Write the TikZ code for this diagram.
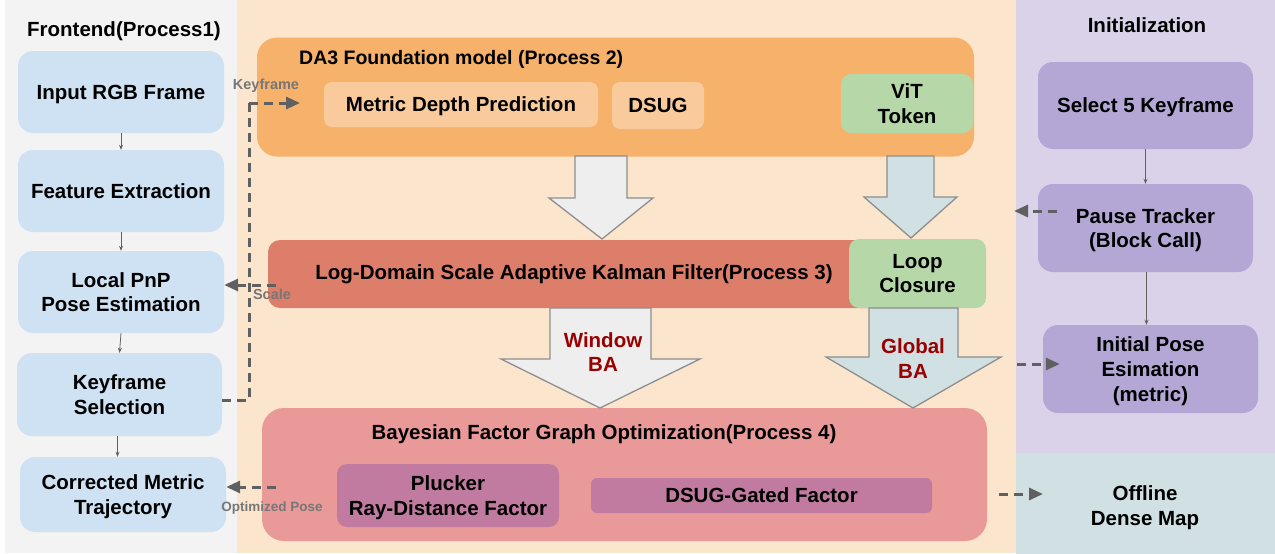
\documentclass[tikz,border=0pt]{standalone}
\usepackage{fontspec}
\setmainfont{Liberation Sans}
\usetikzlibrary{arrows.meta}
\definecolor{panelgrey}{HTML}{F3F3F3}
\definecolor{panelpeach}{HTML}{FCE5CD}
\definecolor{panellav}{HTML}{D9D2E9}
\definecolor{panelblue}{HTML}{D0E0E3}
\definecolor{nodeblue}{HTML}{CFE2F3}
\definecolor{daorange}{HTML}{F6B26B}
\definecolor{lightorange}{HTML}{F9CB9C}
\definecolor{lgreen}{HTML}{B6D7A8}
\definecolor{kred}{HTML}{DD7E6B}
\definecolor{bpink}{HTML}{EA9999}
\definecolor{fmag}{HTML}{C27BA0}
\definecolor{ipurple}{HTML}{B4A7D6}
\definecolor{arrgrey}{HTML}{EEEEEE}
\definecolor{arrblue}{HTML}{D0E0E3}
\definecolor{arredge}{HTML}{8E8E8E}
\definecolor{conngrey}{HTML}{606060}
\definecolor{labgrey}{HTML}{777777}
\definecolor{badred}{HTML}{990000}
\tikzset{
  every node/.style={font=\bfseries\fontsize{20.5}{24.6}\selectfont, align=center, inner sep=0pt, text=black, text depth=0pt},
  frontbox/.style={fill=nodeblue, rounded corners=15pt, minimum width=206pt, minimum height=82pt},
  initbox/.style={fill=ipurple, rounded corners=15pt, minimum width=215pt, minimum height=88pt},
  innerbox/.style={fill=lightorange, rounded corners=8pt},
  greenbox/.style={fill=lgreen, rounded corners=10pt},
  factorbox/.style={fill=fmag, rounded corners=10pt},
  thinarrow/.style={draw=conngrey, line width=0.8pt, -{Stealth[length=5pt,width=4pt]}},
  dasharrow/.style={draw=conngrey, line width=3pt, dash pattern=on 9pt off 6pt, -{Triangle[length=14pt,width=12pt]}},
  dashline/.style={draw=conngrey, line width=3pt, dash pattern=on 9pt off 6pt},
  conlabel/.style={font=\bfseries\fontsize{14.5}{17}\selectfont, text=labgrey},
  bigarrow/.style={draw=arredge, line width=1.3pt, line join=miter},
  batext/.style={text=badred}
}
\begin{document}
\begin{tikzpicture}[x=1pt,y=-1pt]
\useasboundingbox (0,0) rectangle (1275,554);
% panels
\fill[white] (0,0) rectangle (1275,554);
\fill[panelgrey] (5,0) rectangle (237,553);
\fill[panelpeach] (237,0) rectangle (1016,553);
\fill[panellav] (1016,0) rectangle (1275,453);
\fill[panelblue] (1016,453) rectangle (1275,554);

% frontend column
\node (ftitle) at (124,29) {Frontend(Process1)};
\node[frontbox] (inp) at (121,92) {Input RGB Frame};
\node[frontbox] (feat) at (121,191) {Feature Extraction};
\node[frontbox] (pnp) at (121,292) {Local PnP\\Pose Estimation};
\node[frontbox, minimum width=205pt, minimum height=83pt] (kfs) at (119.5,394.5) {Keyframe\\Selection};
\node[frontbox, minimum height=75pt] (corr) at (123,494.5) {Corrected Metric\\Trajectory};
\draw[thinarrow] (inp.south) -- (feat.north);
\draw[thinarrow] (feat.south) -- (pnp.north);
\draw[thinarrow] (pnp.south) -- (kfs.north);
\draw[thinarrow] ([xshift=-2pt]kfs.south) -- ([xshift=-2pt]kfs.south |- corr.north);

% DA3
\node[fill=daorange, rounded corners=20pt, minimum width=717pt, minimum height=119pt] (da3) at (615.5,97) {};
\node[anchor=west] (da3title) at (299,57) {\fontsize{19.5}{23}\selectfont DA3 Foundation model (Process 2)};
\node[innerbox, minimum width=274pt, minimum height=45pt] (mdp) at (461,104.5) {Metric Depth Prediction};
\node[innerbox, minimum width=92pt, minimum height=47pt] (dsug) at (658,105.5) {DSUG};
\node[greenbox, minimum width=132pt, minimum height=59pt] (vit) at (907,103.5) {ViT\\Token};

% Log-domain
\node[fill=kred, rounded corners=12pt, minimum width=612pt, minimum height=68pt] (logb) at (574,274) {};
\node (logtitle) at (574,272) {Log-Domain Scale Adaptive Kalman Filter(Process 3)};
\node[greenbox, minimum width=137pt, minimum height=69pt] (loop) at (917.5,273.5) {Loop\\Closure};

% Bayesian
\node[fill=bpink, rounded corners=22pt, minimum width=725pt, minimum height=133pt] (bayes) at (624.5,474.5) {};
\node (btitle) at (604,432) {Bayesian Factor Graph Optimization(Process 4)};
\node[factorbox, minimum width=222pt, minimum height=63pt] (pluck) at (448,495.5) {Plucker\\Ray-Distance Factor};
\node[factorbox, rounded corners=6pt, minimum width=341pt, minimum height=35pt] (dgf) at (761.5,495.5) {DSUG-Gated Factor};

% big arrows
\draw[bigarrow, fill=arrgrey] (575,156) -- (627,156) -- (627,198) -- (653,198) -- (602,239) -- (549,198) -- (575,198) -- cycle;
\draw[bigarrow, fill=arrblue] (887,156) -- (934,156) -- (934,197) -- (957,197) -- (911,238) -- (864,197) -- (887,197) -- cycle;
\draw[bigarrow, fill=arrgrey] (550,308) -- (651,308) -- (651,359) -- (700,359) -- (600,408) -- (501,359) -- (550,359) -- cycle;
\draw[bigarrow, fill=arrblue] (869,308) -- (958,308) -- (958,357) -- (1001,357) -- (913,408) -- (826,357) -- (869,357) -- cycle;
\node[batext] (wba) at (603,352) {Window\\BA};
\node[batext] (gba) at (913,358.5) {Global\\BA};

% initialization
\node (ititle) at (1147,25) {Initialization};
\node[initbox, minimum height=87pt] (sel5) at (1145.5,105.5) {Select 5 Keyframe};
\node[initbox] (pause) at (1145.5,228) {Pause Tracker\\(Block Call)};
\node[initbox] (initp) at (1150.5,369) {Initial Pose\\Esimation\\(metric)};
\node (offl) at (1145,505.5) {Offline\\Dense Map};
\draw[thinarrow] (sel5.south) -- (pause.north);
\draw[thinarrow] ([xshift=1pt]pause.south) -- ([xshift=1pt]pause.south |- initp.north);

% dashed connectors
\coordinate (kcorner) at (249,400);
\coordinate (kend) at (300,103);
\draw[dashline] (kfs.east |- kcorner) -- (kcorner) -- (kcorner |- kend);
\draw[dasharrow] (kcorner |- kend) -- (kend);
\node[conlabel] (kflab) at (266,84.5) {Keyframe};

\coordinate (sstart) at (276,285);
\draw[dasharrow] (sstart) -- (pnp.east |- sstart);
\node[conlabel] (sclab) at (272,294.5) {Scale};

\coordinate (ostart) at (276,487);
\draw[dasharrow] (ostart) -- (corr.east |- ostart);
\node[conlabel, font=\bfseries\fontsize{13.5}{16}\selectfont] (oplab) at (272,507) {Optimized Pose};

\coordinate (pstart) at (1057,211);
\coordinate (pend) at (1014,211);
\draw[dasharrow] (pstart) -- (pend);

\coordinate (gstart) at (1017,364);
\draw[dasharrow] (gstart) -- ([xshift=17pt]initp.west |- gstart);

\coordinate (ostart2) at (999,494);
\coordinate (oend2) at (1043,494);
\draw[dasharrow] (ostart2) -- (oend2);
\end{tikzpicture}
\end{document}
